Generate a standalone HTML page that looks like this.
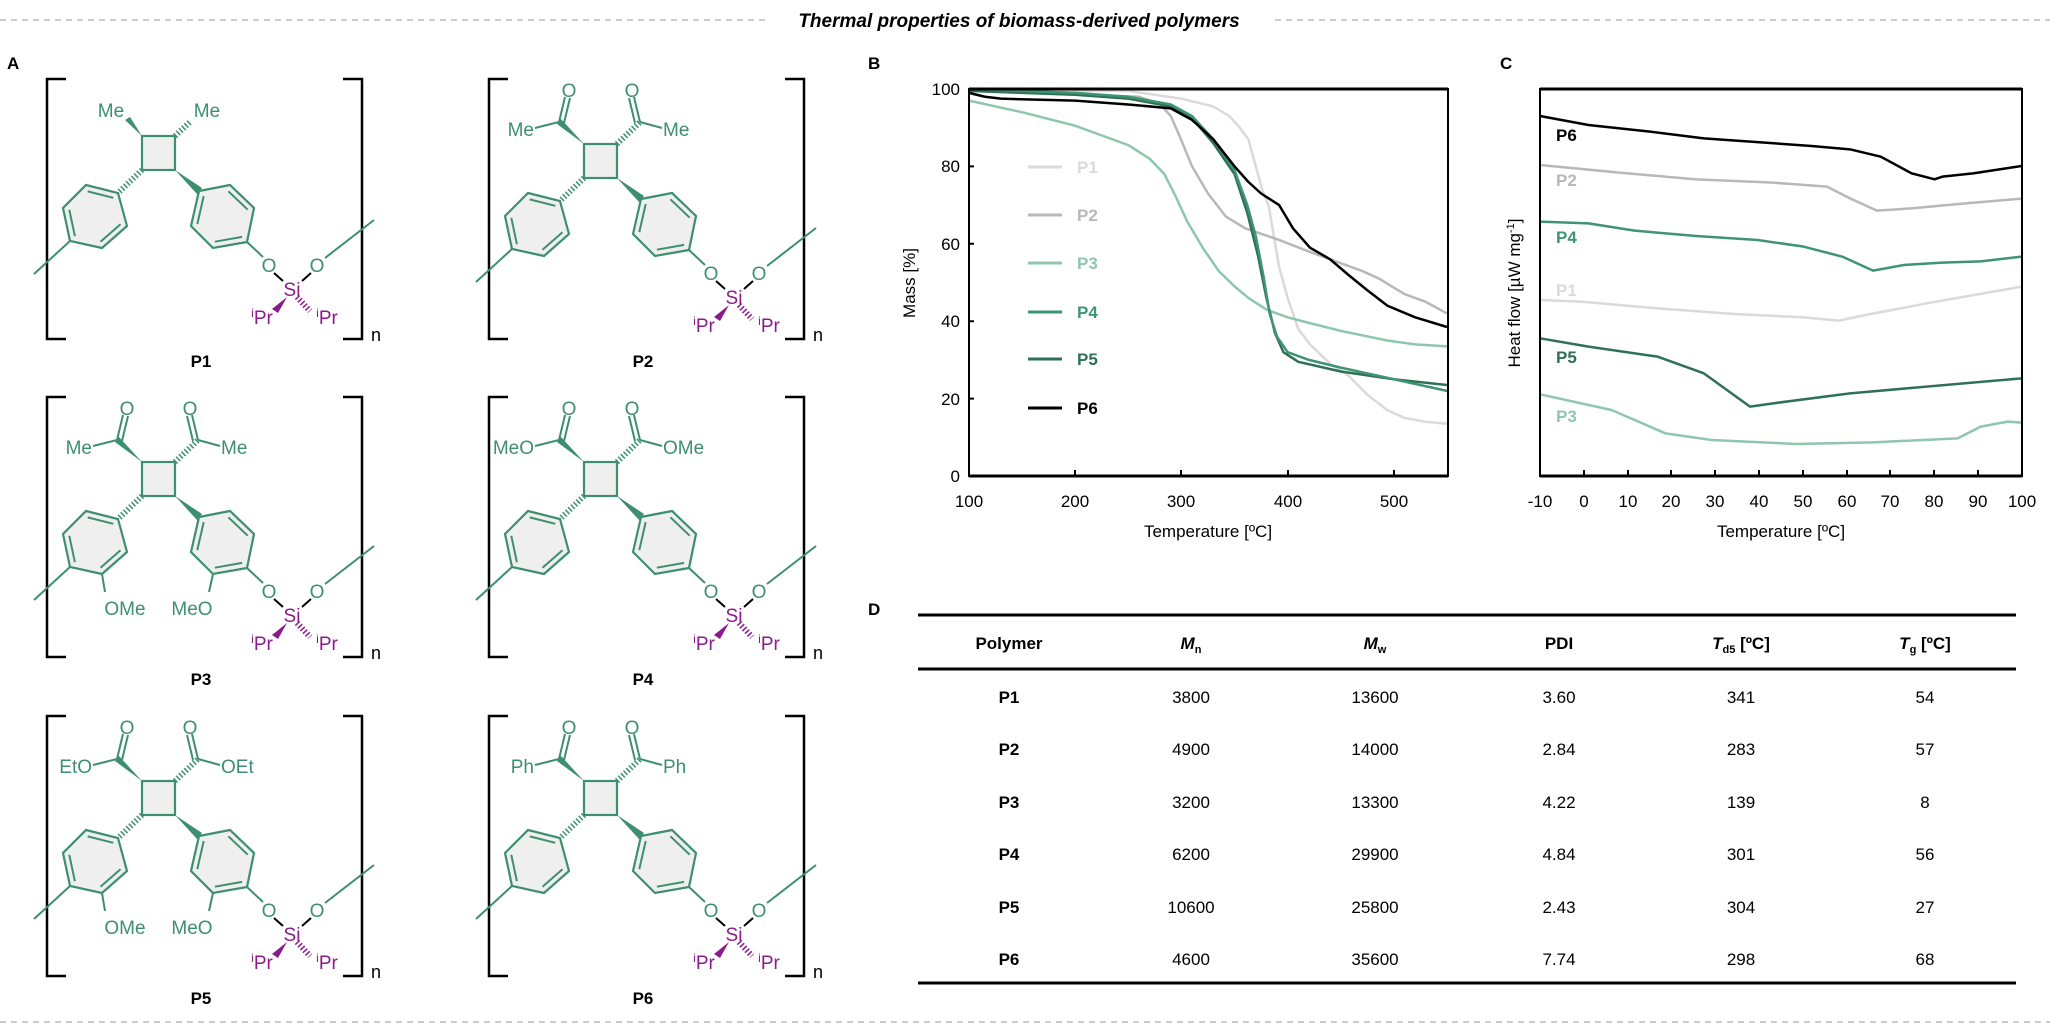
<!DOCTYPE html>
<html><head><meta charset="utf-8"><style>
html,body{margin:0;padding:0;background:#fff;}
svg{display:block;font-family:"Liberation Sans",Arial,sans-serif;}
.g{fill:#3d8f6f;font-size:19px;}
.pu{fill:#8b1a8b;font-size:19px;}
.k{fill:#000;font-size:18px;}
.lab{font-weight:bold;font-size:17px;}
.tk{font-size:17px;fill:#000;}
.tb{font-size:17px;fill:#000;text-anchor:middle;}
</style></head><body>
<svg width="2050" height="1028" viewBox="0 0 2050 1028" xmlns="http://www.w3.org/2000/svg">
<defs>
<g id="br">
  <path d="M19,0 H0 V260 H19 M296,0 H315 V260 H296" fill="none" stroke="#000" stroke-width="2.5"/>
</g>
<g id="core">
  <rect x="95" y="65" width="33" height="34" fill="#efefef" stroke="#3d8f6f" stroke-width="2.2"/>
  <polygon points="39,114 71,122 80,155 55,177 23,170 16,137" fill="#efefef" stroke="#3d8f6f" stroke-width="2.2"/>
  <polygon points="152,120 183,114 207,137 200,171 166,177 144,155" fill="#efefef" stroke="#3d8f6f" stroke-width="2.2"/>
  <g stroke="#3d8f6f" stroke-width="2" fill="none">
    <path d="M40.7,120.4 L66.3,126.8 M73.5,153.2 L53.5,170.8 M27.9,165.2 L22.3,138.8"/>
    <path d="M181.4,120.3 L200.7,138.7 M195.1,165.9 L167.9,170.7 M150.3,153.1 L156.7,125.1"/>
    <path d="M23,170 L-13,203 M200,171 L216,186 M278,187 L327,149"/>
    <path d="M95,99 L71,122" stroke-width="6" stroke-dasharray="1.5 2.2"/>
  </g>
  <polygon points="128,99 150,123 155,117" fill="#3d8f6f"/>
  <path d="M227,202 L236,210 M264,202 L255,210" stroke="#000" stroke-width="2"/>
  <polygon points="240,226 225,238 231,242" fill="#8b1a8b"/>
  <path d="M250,226 L263,240" stroke="#8b1a8b" stroke-width="6" stroke-dasharray="1.5 2.2"/>
</g>
<g id="carb">
  <polygon points="95,65 68,45 72,40" fill="#3d8f6f"/>
  <path d="M128,65 L151,43" stroke="#3d8f6f" stroke-width="6" stroke-dasharray="1.5 2.2"/>
  <g stroke="#3d8f6f" stroke-width="2" fill="none">
    <path d="M70,43 L76,18 M75,44 L81,19 M70,43 L46,49"/>
    <path d="M151,43 L145,18 M146,44 L140,19 M151,43 L173,49"/>
  </g>
</g>
<g id="ome">
  <path d="M55,177 L58,195 M166,177 L162,195" stroke="#3d8f6f" stroke-width="2"/>
</g>
</defs>

<!-- header -->
<line x1="0" y1="20" x2="765" y2="20" stroke="#bbb" stroke-width="1.5" stroke-dasharray="6 5"/>
<line x1="1275" y1="20" x2="2050" y2="20" stroke="#bbb" stroke-width="1.5" stroke-dasharray="6 5"/>
<line x1="0" y1="1022" x2="2050" y2="1022" stroke="#bbb" stroke-width="1.5" stroke-dasharray="6 5"/>
<text x="1019" y="27" text-anchor="middle" font-size="19" font-weight="bold" font-style="italic">Thermal properties of biomass-derived polymers</text>
<text x="7" y="69" class="lab" font-size="18">A</text>
<text x="868" y="69" class="lab" font-size="18">B</text>
<text x="1500" y="69" class="lab" font-size="18">C</text>
<text x="868" y="615" class="lab" font-size="18">D</text>

<!-- P1 -->
<g transform="translate(47,79)">
  <use href="#br"/>
  <g transform="translate(0,-8)">
  <use href="#core"/>
  <polygon points="95,65 78,49 83,46" fill="#3d8f6f"/>
  <path d="M128,65 L143,51" stroke="#3d8f6f" stroke-width="6" stroke-dasharray="1.5 2.2"/>
  <text x="64" y="46" class="g" text-anchor="middle">Me</text>
  <text x="160" y="46" class="g" text-anchor="middle">Me</text>
  <text x="222" y="201" class="g" text-anchor="middle">O</text>
  <text x="270" y="201" class="g" text-anchor="middle">O</text>
  <text x="245" y="225" class="pu" text-anchor="middle">Si</text>
  <text x="215" y="253" class="pu" text-anchor="middle"><tspan font-size="12" dy="-7">i</tspan><tspan dy="7">Pr</tspan></text>
  <text x="280" y="253" class="pu" text-anchor="middle"><tspan font-size="12" dy="-7">i</tspan><tspan dy="7">Pr</tspan></text>
  </g>
  <text x="324" y="262" class="k">n</text>
  <text x="154" y="288" class="lab" text-anchor="middle">P1</text>
</g>
<!-- P2 -->
<g transform="translate(489,79)">
  <use href="#br"/><use href="#core"/><use href="#carb"/>
  <text x="80" y="18" class="g" text-anchor="middle">O</text>
  <text x="143" y="18" class="g" text-anchor="middle">O</text>
  <text x="45" y="57" class="g" text-anchor="end">Me</text>
  <text x="174" y="57" class="g">Me</text>
  <text x="222" y="201" class="g" text-anchor="middle">O</text>
  <text x="270" y="201" class="g" text-anchor="middle">O</text>
  <text x="245" y="225" class="pu" text-anchor="middle">Si</text>
  <text x="215" y="253" class="pu" text-anchor="middle"><tspan font-size="12" dy="-7">i</tspan><tspan dy="7">Pr</tspan></text>
  <text x="280" y="253" class="pu" text-anchor="middle"><tspan font-size="12" dy="-7">i</tspan><tspan dy="7">Pr</tspan></text>
  <text x="324" y="262" class="k">n</text>
  <text x="154" y="288" class="lab" text-anchor="middle">P2</text>
</g>
<!-- P3 -->
<g transform="translate(47,397)">
  <use href="#br"/><use href="#core"/><use href="#carb"/><use href="#ome"/>
  <text x="80" y="18" class="g" text-anchor="middle">O</text>
  <text x="143" y="18" class="g" text-anchor="middle">O</text>
  <text x="45" y="57" class="g" text-anchor="end">Me</text>
  <text x="174" y="57" class="g">Me</text>
  <text x="78" y="218" class="g" text-anchor="middle">OMe</text>
  <text x="145" y="218" class="g" text-anchor="middle">MeO</text>
  <text x="222" y="201" class="g" text-anchor="middle">O</text>
  <text x="270" y="201" class="g" text-anchor="middle">O</text>
  <text x="245" y="225" class="pu" text-anchor="middle">Si</text>
  <text x="215" y="253" class="pu" text-anchor="middle"><tspan font-size="12" dy="-7">i</tspan><tspan dy="7">Pr</tspan></text>
  <text x="280" y="253" class="pu" text-anchor="middle"><tspan font-size="12" dy="-7">i</tspan><tspan dy="7">Pr</tspan></text>
  <text x="324" y="262" class="k">n</text>
  <text x="154" y="288" class="lab" text-anchor="middle">P3</text>
</g>
<!-- P4 -->
<g transform="translate(489,397)">
  <use href="#br"/><use href="#core"/><use href="#carb"/>
  <text x="80" y="18" class="g" text-anchor="middle">O</text>
  <text x="143" y="18" class="g" text-anchor="middle">O</text>
  <text x="45" y="57" class="g" text-anchor="end">MeO</text>
  <text x="174" y="57" class="g">OMe</text>
  <text x="222" y="201" class="g" text-anchor="middle">O</text>
  <text x="270" y="201" class="g" text-anchor="middle">O</text>
  <text x="245" y="225" class="pu" text-anchor="middle">Si</text>
  <text x="215" y="253" class="pu" text-anchor="middle"><tspan font-size="12" dy="-7">i</tspan><tspan dy="7">Pr</tspan></text>
  <text x="280" y="253" class="pu" text-anchor="middle"><tspan font-size="12" dy="-7">i</tspan><tspan dy="7">Pr</tspan></text>
  <text x="324" y="262" class="k">n</text>
  <text x="154" y="288" class="lab" text-anchor="middle">P4</text>
</g>
<!-- P5 -->
<g transform="translate(47,716)">
  <use href="#br"/><use href="#core"/><use href="#carb"/><use href="#ome"/>
  <text x="80" y="18" class="g" text-anchor="middle">O</text>
  <text x="143" y="18" class="g" text-anchor="middle">O</text>
  <text x="45" y="57" class="g" text-anchor="end">EtO</text>
  <text x="174" y="57" class="g">OEt</text>
  <text x="78" y="218" class="g" text-anchor="middle">OMe</text>
  <text x="145" y="218" class="g" text-anchor="middle">MeO</text>
  <text x="222" y="201" class="g" text-anchor="middle">O</text>
  <text x="270" y="201" class="g" text-anchor="middle">O</text>
  <text x="245" y="225" class="pu" text-anchor="middle">Si</text>
  <text x="215" y="253" class="pu" text-anchor="middle"><tspan font-size="12" dy="-7">i</tspan><tspan dy="7">Pr</tspan></text>
  <text x="280" y="253" class="pu" text-anchor="middle"><tspan font-size="12" dy="-7">i</tspan><tspan dy="7">Pr</tspan></text>
  <text x="324" y="262" class="k">n</text>
  <text x="154" y="288" class="lab" text-anchor="middle">P5</text>
</g>
<!-- P6 -->
<g transform="translate(489,716)">
  <use href="#br"/><use href="#core"/><use href="#carb"/>
  <text x="80" y="18" class="g" text-anchor="middle">O</text>
  <text x="143" y="18" class="g" text-anchor="middle">O</text>
  <text x="45" y="57" class="g" text-anchor="end">Ph</text>
  <text x="174" y="57" class="g">Ph</text>
  <text x="222" y="201" class="g" text-anchor="middle">O</text>
  <text x="270" y="201" class="g" text-anchor="middle">O</text>
  <text x="245" y="225" class="pu" text-anchor="middle">Si</text>
  <text x="215" y="253" class="pu" text-anchor="middle"><tspan font-size="12" dy="-7">i</tspan><tspan dy="7">Pr</tspan></text>
  <text x="280" y="253" class="pu" text-anchor="middle"><tspan font-size="12" dy="-7">i</tspan><tspan dy="7">Pr</tspan></text>
  <text x="324" y="262" class="k">n</text>
  <text x="154" y="288" class="lab" text-anchor="middle">P6</text>
</g>

<!-- Chart B -->
<g>
  <g transform="translate(969,476) scale(1.0622,-3.87) translate(-100,0)" fill="none" stroke-width="2.5" stroke-linejoin="round">
    <polyline vector-effect="non-scaling-stroke" stroke="#dadada" points="100,99.5 250,99.5 300,97.5 330,95.5 345,93 355,90 363,87 370,80 376,74 382,70 392,54 400,46 410,38 421,34 440,29 457,26 475,21 494,17 510,15 530,14 550,13.5"/>
    <polyline vector-effect="non-scaling-stroke" stroke="#b8b8b8" points="100,99.5 260,98 280,96 290,93 298,88 310,80 325,73 342,67 360,64 392,61 420,58 450,55 470,53 486,51 510,47 530,45 550,42"/>
    <polyline vector-effect="non-scaling-stroke" stroke="#8fc6ae" points="100,97 150,94 200,90.5 250,85.5 270,82 284,78 295,72 305,66 320,59 335,53 350,49 363,46 380,43 400,41 421,39.5 450,37.5 494,35 520,34 550,33.5"/>
    <polyline vector-effect="non-scaling-stroke" stroke="#2e7157" points="100,99.5 200,98.5 250,97.5 290,95.5 310,92.5 330,86 350,78 362,68 372,57 380,46 388,37 396,32 410,29.5 450,27 500,25 550,23.5"/>
    <polyline vector-effect="non-scaling-stroke" stroke="#3f9474" points="100,100 200,99 250,98 290,96 310,93 330,87 350,79 362,70 370,62 377,52 383,42 390,36 400,32 420,30 450,28 500,25 550,22"/>
    <polyline vector-effect="non-scaling-stroke" stroke="#000" points="100,99 115,98 130,97.5 200,97 250,96 290,95 310,92 330,87 350,80 363,76 375,73 392,70 405,64 421,59 440,56 457,52 475,48 494,44 520,41 550,38.5"/>
  </g>
  <rect x="969" y="89" width="479" height="387" fill="none" stroke="#000" stroke-width="2"/>
  <line x1="969" y1="89" x2="1448" y2="89" stroke="#000" stroke-width="3"/>
  <line x1="969" y1="476" x2="1448" y2="476" stroke="#000" stroke-width="3"/>
  <g stroke="#000" stroke-width="2">
    <path d="M1075,476 v-6 M1181,476 v-6 M1288,476 v-6 M1394,476 v-6"/>
    <path d="M969,398.6 h5 M969,321.2 h5 M969,243.8 h5 M969,166.4 h5"/>
  </g>
  <g class="tk" text-anchor="end">
    <text x="960" y="95">100</text><text x="960" y="172">80</text><text x="960" y="250">60</text>
    <text x="960" y="327">40</text><text x="960" y="405">20</text><text x="960" y="482">0</text>
  </g>
  <g class="tk" text-anchor="middle">
    <text x="969" y="507">100</text><text x="1075" y="507">200</text><text x="1181" y="507">300</text>
    <text x="1288" y="507">400</text><text x="1394" y="507">500</text>
  </g>
  <text x="1208" y="537" class="tk" text-anchor="middle">Temperature [ºC]</text>
  <text transform="translate(915,283) rotate(-90)" class="tk" text-anchor="middle">Mass [%]</text>
  <g stroke-width="3">
    <line x1="1028" y1="167" x2="1062" y2="167" stroke="#dadada"/>
    <line x1="1028" y1="215" x2="1062" y2="215" stroke="#b8b8b8"/>
    <line x1="1028" y1="263" x2="1062" y2="263" stroke="#8fc6ae"/>
    <line x1="1028" y1="312" x2="1062" y2="312" stroke="#3f9474"/>
    <line x1="1028" y1="359" x2="1062" y2="359" stroke="#2e7157"/>
    <line x1="1028" y1="408" x2="1062" y2="408" stroke="#000"/>
  </g>
  <g class="lab">
    <text x="1077" y="173" fill="#dadada">P1</text>
    <text x="1077" y="221" fill="#b8b8b8">P2</text>
    <text x="1077" y="269" fill="#8fc6ae">P3</text>
    <text x="1077" y="318" fill="#3f9474">P4</text>
    <text x="1077" y="365" fill="#2e7157">P5</text>
    <text x="1077" y="414" fill="#000">P6</text>
  </g>
</g>

<!-- Chart C -->
<g>
  <g transform="translate(850,40) scale(0.76923,0.33333)" fill="none" stroke-width="2.5" stroke-linejoin="round">
    <polyline vector-effect="non-scaling-stroke" stroke="#000" points="897,228 960,255 1040,275 1110,295 1250,318 1300,328 1340,350 1380,400 1410,418 1420,410 1460,400 1523,378"/>
    <polyline vector-effect="non-scaling-stroke" stroke="#b8b8b8" points="897,375 1000,398 1100,418 1200,428 1270,440 1300,475 1335,512 1380,505 1450,490 1523,476"/>
    <polyline vector-effect="non-scaling-stroke" stroke="#3f9474" points="897,545 960,550 1020,572 1100,588 1180,600 1240,620 1290,650 1330,692 1370,675 1420,668 1470,664 1523,650"/>
    <polyline vector-effect="non-scaling-stroke" stroke="#dadada" points="897,780 950,785 1050,805 1150,822 1240,832 1285,842 1320,825 1400,790 1523,740"/>
    <polyline vector-effect="non-scaling-stroke" stroke="#2e7157" points="897,895 960,920 1050,950 1110,1000 1140,1050 1170,1100 1200,1090 1300,1060 1523,1015"/>
    <polyline vector-effect="non-scaling-stroke" stroke="#8fc6ae" points="897,1063 990,1110 1060,1180 1120,1200 1230,1212 1330,1207 1440,1195 1470,1160 1505,1145 1523,1148"/>
  </g>
  <rect x="1540" y="89" width="482" height="387" fill="none" stroke="#000" stroke-width="2"/>
  <line x1="1540" y1="89" x2="2022" y2="89" stroke="#000" stroke-width="3"/>
  <line x1="1540" y1="476" x2="2022" y2="476" stroke="#000" stroke-width="3"/>
  <g stroke="#000" stroke-width="2">
    <path d="M1584,476 v-6 M1628,476 v-6 M1671,476 v-6 M1715,476 v-6 M1759,476 v-6 M1803,476 v-6 M1847,476 v-6 M1890,476 v-6 M1934,476 v-6 M1978,476 v-6"/>
  </g>
  <g class="tk" text-anchor="middle">
    <text x="1540" y="507">-10</text><text x="1584" y="507">0</text><text x="1628" y="507">10</text>
    <text x="1671" y="507">20</text><text x="1715" y="507">30</text><text x="1759" y="507">40</text>
    <text x="1803" y="507">50</text><text x="1847" y="507">60</text><text x="1890" y="507">70</text>
    <text x="1934" y="507">80</text><text x="1978" y="507">90</text><text x="2022" y="507">100</text>
  </g>
  <text x="1781" y="537" class="tk" text-anchor="middle">Temperature [ºC]</text>
  <text transform="translate(1520,293) rotate(-90)" class="tk" text-anchor="middle">Heat flow [µW mg<tspan font-size="11" dy="-6">-1</tspan><tspan dy="6">]</tspan></text>
  <g class="lab">
    <text x="1556" y="141" fill="#000">P6</text>
    <text x="1556" y="186" fill="#b8b8b8">P2</text>
    <text x="1556" y="243" fill="#3f9474">P4</text>
    <text x="1556" y="296" fill="#dadada">P1</text>
    <text x="1556" y="363" fill="#2e7157">P5</text>
    <text x="1556" y="422" fill="#8fc6ae">P3</text>
  </g>
</g>

<!-- Table D -->
<g>
  <line x1="918" y1="615" x2="2016" y2="615" stroke="#000" stroke-width="3"/>
  <line x1="918" y1="669" x2="2016" y2="669" stroke="#000" stroke-width="3"/>
  <line x1="918" y1="983" x2="2016" y2="983" stroke="#000" stroke-width="3"/>
  <g class="tb" font-weight="bold">
    <text x="1009" y="649">Polymer</text>
    <text x="1191" y="649"><tspan font-style="italic">M</tspan><tspan font-size="11" dy="4">n</tspan></text>
    <text x="1375" y="649"><tspan font-style="italic">M</tspan><tspan font-size="11" dy="4">w</tspan></text>
    <text x="1559" y="649">PDI</text>
    <text x="1741" y="649"><tspan font-style="italic">T</tspan><tspan font-size="11" dy="4">d5</tspan><tspan dy="-4"> [ºC]</tspan></text>
    <text x="1925" y="649"><tspan font-style="italic">T</tspan><tspan font-size="11" dy="4">g</tspan><tspan dy="-4"> [ºC]</tspan></text>
  </g>
  <g class="tb">
    <text x="1009" y="703" font-weight="bold">P1</text><text x="1191" y="703">3800</text><text x="1375" y="703">13600</text><text x="1559" y="703">3.60</text><text x="1741" y="703">341</text><text x="1925" y="703">54</text>
    <text x="1009" y="755" font-weight="bold">P2</text><text x="1191" y="755">4900</text><text x="1375" y="755">14000</text><text x="1559" y="755">2.84</text><text x="1741" y="755">283</text><text x="1925" y="755">57</text>
    <text x="1009" y="808" font-weight="bold">P3</text><text x="1191" y="808">3200</text><text x="1375" y="808">13300</text><text x="1559" y="808">4.22</text><text x="1741" y="808">139</text><text x="1925" y="808">8</text>
    <text x="1009" y="860" font-weight="bold">P4</text><text x="1191" y="860">6200</text><text x="1375" y="860">29900</text><text x="1559" y="860">4.84</text><text x="1741" y="860">301</text><text x="1925" y="860">56</text>
    <text x="1009" y="913" font-weight="bold">P5</text><text x="1191" y="913">10600</text><text x="1375" y="913">25800</text><text x="1559" y="913">2.43</text><text x="1741" y="913">304</text><text x="1925" y="913">27</text>
    <text x="1009" y="965" font-weight="bold">P6</text><text x="1191" y="965">4600</text><text x="1375" y="965">35600</text><text x="1559" y="965">7.74</text><text x="1741" y="965">298</text><text x="1925" y="965">68</text>
  </g>
</g>
</svg>
</body></html>
